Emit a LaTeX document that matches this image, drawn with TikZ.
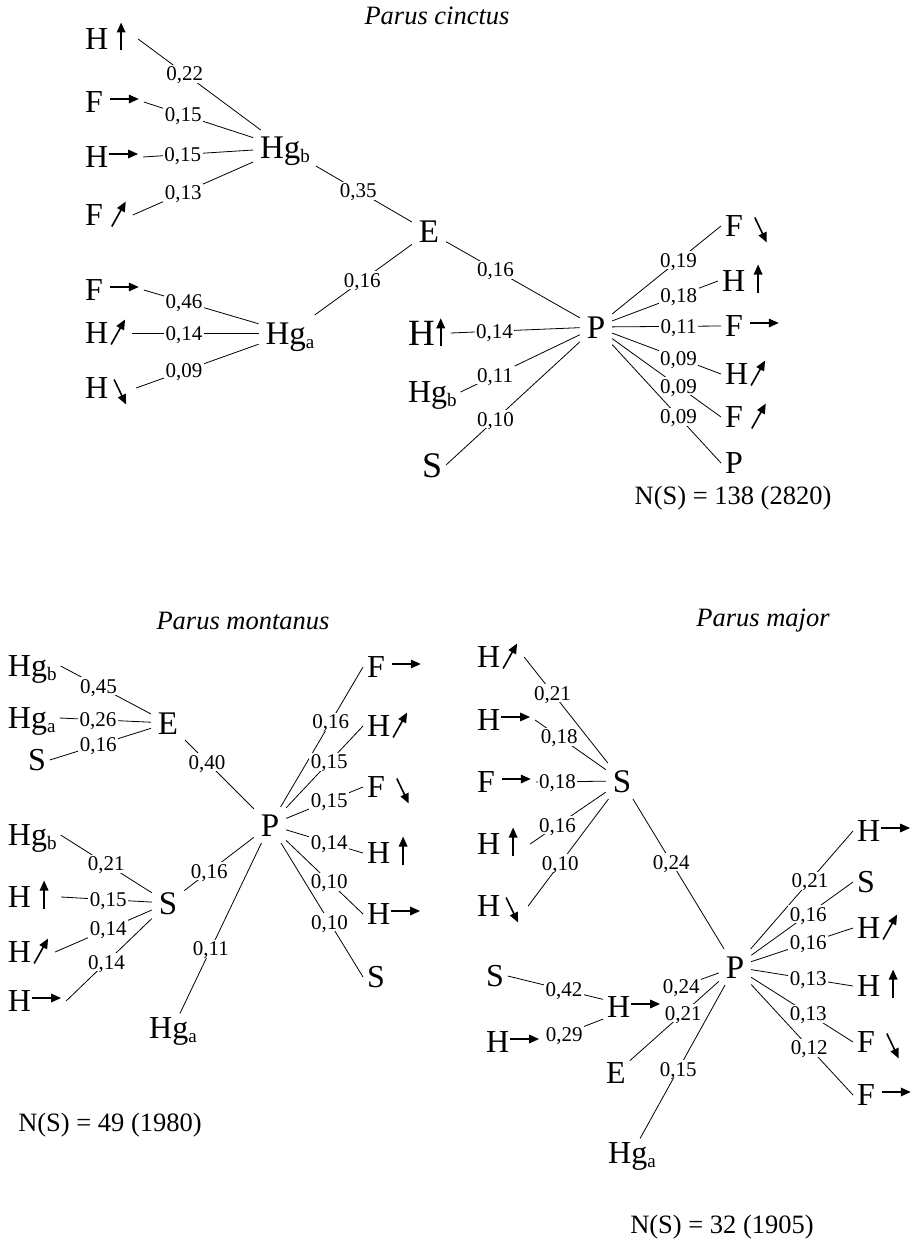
\documentclass[tikz,border=0pt]{standalone}
\usepackage{fontspec}
\setmainfont{Liberation Serif}
\usetikzlibrary{arrows.meta}
\newcommand\fs[1]{\fontsize{#1}{#1}\selectfont}
\newcommand\sub[1]{\raisebox{-4pt}{\fs{19}#1}}
\newcommand\arw[3]{\makebox[#1]{\tikz[baseline=0pt]\draw[arrline] #2 -- #3;}}
\newcommand\arup[1][26pt]{\arw{#1}{(0pt,-1pt)}{(0pt,27pt)}}
\newcommand\arrt[1][31pt]{\arw{#1}{(0pt,13.5pt)}{(29pt,13.5pt)}}
\newcommand\arne[1][20pt]{\arw{#1}{(0pt,-1pt)}{(14pt,24pt)}}
\newcommand\arse[1][24pt]{\arw{#1}{(0pt,19pt)}{(12pt,-6pt)}}
\tikzset{
  arrline/.style={line width=1.6pt,-{Triangle[length=10pt,width=8.5pt]}},
  nd/.style={font=\fs{32}, inner sep=0pt, outer sep=4pt, text height=21pt, text depth=0pt},
  lf/.style={nd, anchor=west},
  big/.style={font=\fs{37}, text height=24.5pt},
  hub/.style={nd, font=\fs{33}, text height=22pt, outer sep=7pt},
  lbl/.style={font=\fs{21}, fill=white, inner xsep=1.5pt, inner ysep=2pt, text height=14pt, text depth=0pt},
  ln/.style={line width=0.8pt},
  ttl/.style={font=\fs{26.5}\itshape},
  cnt/.style={font=\fs{26.5}},
}
\begin{document}
\begin{tikzpicture}[x=1pt,y=-1pt]
\useasboundingbox (0,0) rectangle (911,1241);
% Parus cinctus
\node[ttl] (tc) at (437,16) {Parus cinctus};
\node[lf] (c1) at (81,39) {H\arup};
\node[lf] (c2) at (81,102) {F\hspace{6pt}\arrt};
\node[lf] (c3) at (81,157) {H\arrt};
\node[lf] (c4) at (81,215) {F\hspace{6pt}\arne};
\node[lf] (c5) at (81,290) {F\hspace{6pt}\arrt};
\node[lf] (c6) at (81,333) {H\arne};
\node[lf] (c7) at (81,388) {H\arse};
\node[hub] (chgb) at (285,148) {Hg\sub{b}};
\node[hub] (chga) at (290,333) {Hg\sub{a}};
\node[hub] (ce) at (429,232) {E};
\node[hub] (cp) at (596,327) {P};
\node[lf,big] (c8) at (404,333) {H\arup[12pt]};
\node[lf] (c9) at (404,392) {Hg\sub{b}};
\node[lf,font=\fs{36},text height=24pt] (c10) at (418,465) {S};
\node[lf] (c11) at (721,226) {F\hspace{6pt}\arse};
\node[lf] (c12) at (718,281) {H\arup};
\node[lf] (c13) at (721,326) {F\hspace{6pt}\arrt};
\node[lf] (c14) at (721,374) {H\arne};
\node[lf] (c15) at (721,417) {F\hspace{6pt}\arne};
\node[lf] (c16) at (721,463) {P};
\node[cnt] (cn) at (733,498) {N(S) = 138 (2820)};
\draw[ln] (c1.east) -- node[lbl,pos=.38] {0,22} (chgb);
\draw[ln] (c2.east) -- node[lbl,pos=.36] {0,15} (chgb);
\draw[ln] (c3.east) -- node[lbl,pos=.36] {0,15} (chgb);
\draw[ln] (c4.east) -- node[lbl,pos=.42] {0,13} (chgb);
\draw[ln] (c5.east) -- node[lbl,pos=.35] {0,46} (chga);
\draw[ln] (c6.east) -- node[lbl,pos=.41] {0,14} (chga);
\draw[ln] (c7.east) -- node[lbl,pos=.39] {0,09} (chga);
\draw[ln] (chgb) -- node[lbl,pos=.44] {0,35} (ce);
\draw[ln] (chga) -- node[lbl,pos=.49] {0,16} (ce);
\draw[ln] (ce) -- node[lbl,pos=.37] {0,16} (cp);
\draw[ln] (c8.east) -- node[lbl,pos=.34] {0,14} (cp);
\draw[ln] (c9.east) -- node[lbl,pos=.29] {0,11} (cp);
\draw[ln] (c10.east) -- node[lbl,pos=.37] {0,10} (cp);
\draw[ln] (cp) -- node[lbl,pos=.61] {0,19} (c11.west);
\draw[ln] (cp) -- node[lbl,pos=.63] {0,18} (c12.west);
\draw[ln] (cp) -- node[lbl,pos=.61] {0,11} (c13.west);
\draw[ln] (cp) -- node[lbl,pos=.61] {0,09} (c14.west);
\draw[ln] (cp) -- node[lbl,pos=.61] {0,09} (c15.west);
\draw[ln] (cp) -- node[lbl,pos=.61] {0,09} (c16.west);
% Parus montanus
\node[ttl] (tm) at (243,621) {Parus montanus};
\node[lf] (m1) at (4,666) {Hg\sub{b}};
\node[lf] (m2) at (4,718) {Hg\sub{a}};
\node[lf] (m3) at (24,760) {S};
\node[hub] (me) at (168,723) {E};
\node[hub] (mp) at (270,825) {P};
\node[lf] (m4) at (363,667) {F\hspace{6pt}\arrt};
\node[lf] (m5) at (363,726) {H\arne};
\node[lf] (m6) at (363,787) {F\hspace{6pt}\arse};
\node[lf] (m7) at (363,853) {H\arup};
\node[lf] (m8) at (363,914) {H\arrt};
\node[lf] (m9) at (363,977) {S};
\node[hub] (ms) at (168,903) {S};
\node[lf] (m10) at (4,835) {Hg\sub{b}};
\node[lf] (m11) at (4,897) {H\arup};
\node[lf] (m12) at (4,952) {H\arne};
\node[lf] (m13) at (4,1001) {H\arrt};
\node[nd] (mhga) at (173,1028) {Hg\sub{a}};
\node[cnt] (mn) at (110,1125) {N(S) = 49 (1980)};
\draw[ln] (m1.east) -- node[lbl,pos=.42] {0,45} (me);
\draw[ln] (m2.east) -- node[lbl,pos=.42] {0,26} (me);
\draw[ln] (m3.east) -- node[lbl,pos=.48] {0,16} (me);
\draw[ln] (me) -- node[lbl,pos=.32] {0,40} (mp);
\draw[ln] (mp) -- node[lbl,pos=.61] {0,16} (m4.west);
\draw[ln] (mp) -- node[lbl,pos=.56] {0,15} (m5.west);
\draw[ln] (mp) -- node[lbl,pos=.56] {0,15} (m6.west);
\draw[ln] (mp) -- node[lbl,pos=.56] {0,14} (m7.west);
\draw[ln] (mp) -- node[lbl,pos=.56] {0,10} (m8.west);
\draw[ln] (mp) -- node[lbl,pos=.59] {0,10} (m9.west);
\draw[ln] (m10.east) -- node[lbl,pos=.5] {0,21} (ms);
\draw[ln] (m11.east) -- node[lbl,pos=.52] {0,15} (ms);
\draw[ln] (m12.east) -- node[lbl,pos=.55] {0,14} (ms);
\draw[ln] (m13.east) -- node[lbl,pos=.47] {0,14} (ms);
\draw[ln] (ms) -- node[lbl,pos=.36] {0,16} (mp);
\draw[ln] (mp) -- node[lbl,pos=.62] {0,11} (mhga);
% Parus major
\node[ttl] (tj) at (763,621) {Parus major};
\node[lf] (j1) at (473,657) {H\arne};
\node[lf] (j2) at (473,720) {H\arrt};
\node[lf] (j3) at (473,782) {F\hspace{6pt}\arrt};
\node[lf] (j4) at (473,844) {H\arup};
\node[lf] (j5) at (473,906) {H\arse};
\node[hub] (js) at (622,781) {S};
\node[hub] (jp) at (735,967) {P};
\node[lf] (j6) at (853,831) {H\arrt};
\node[lf] (j7) at (853,882) {S};
\node[lf] (j8) at (853,928) {H\arne};
\node[lf] (j9) at (853,986) {H\arup};
\node[lf] (j10) at (853,1042) {F\hspace{6pt}\arse};
\node[lf] (j11) at (853,1095) {F\hspace{6pt}\arrt};
\node[lf] (j12) at (482,976) {S};
\node[lf] (j13) at (482,1042) {H\arrt};
\node[lf] (jh) at (603,1007) {H\arrt};
\node[nd] (je) at (616,1073) {E};
\node[nd] (jhga) at (632,1153) {Hg\sub{a}};
\node[cnt] (jn) at (722,1227) {N(S) = 32 (1905)};
\draw[ln] (j1.east) -- node[lbl,pos=.34] {0,21} (js);
\draw[ln] (j2.east) -- node[lbl,pos=.34] {0,18} (js);
\draw[ln] (j3.east) -- node[lbl,pos=.31] {0,18} (js);
\draw[ln] (j4.east) -- node[lbl,pos=.36] {0,16} (js);
\draw[ln] (j5.east) -- node[lbl,pos=.4] {0,10} (js);
\draw[ln] (js) -- node[lbl,pos=.42] {0,24} (jp);
\draw[ln] (jp) -- node[lbl,pos=.58] {0,21} (j6.west);
\draw[ln] (jp) -- node[lbl,pos=.56] {0,16} (j7.west);
\draw[ln] (jp) -- node[lbl,pos=.56] {0,16} (j8.west);
\draw[ln] (jp) -- node[lbl,pos=.56] {0,13} (j9.west);
\draw[ln] (jp) -- node[lbl,pos=.56] {0,13} (j10.west);
\draw[ln] (jp) -- node[lbl,pos=.57] {0,12} (j11.west);
\draw[ln] (j12.east) -- node[lbl,pos=.59] {0,42} (jh);
\draw[ln] (j13.east) -- node[lbl,pos=.34] {0,29} (jh);
\draw[ln] (jh.north east) -- node[lbl,pos=.3] {0,24} (jp);
\draw[ln] (je) -- node[lbl,pos=.6] {0,21} (jp);
\draw[ln] (jhga) -- node[lbl,pos=.45] {0,15} (jp);
\end{tikzpicture}
\end{document}
